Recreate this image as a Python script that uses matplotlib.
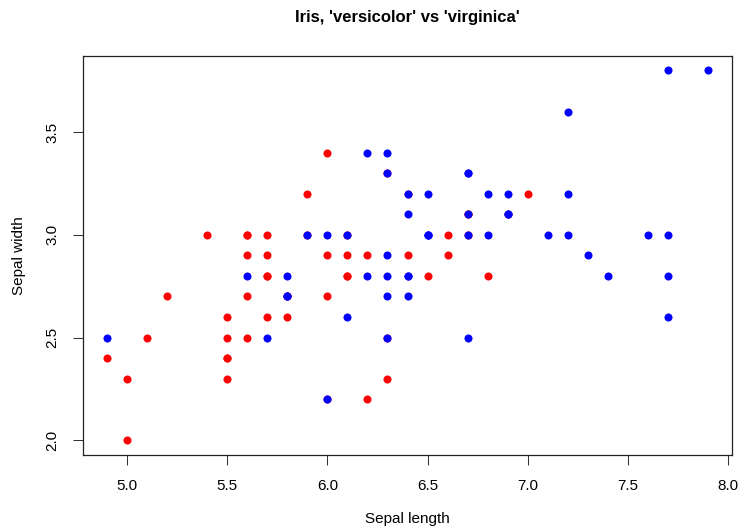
import numpy as np
import matplotlib.pyplot as plt

plt.rcParams['font.family'] = ['Liberation Sans', 'DejaVu Sans']

# iris versicolor
versicolor_length = [7.0, 6.4, 6.9, 5.5, 6.5, 5.7, 6.3, 4.9, 6.6, 5.2,
                     5.0, 5.9, 6.0, 6.1, 5.6, 6.7, 5.6, 5.8, 6.2, 5.6,
                     5.9, 6.1, 6.3, 6.1, 6.4, 6.6, 6.8, 6.7, 6.0, 5.7,
                     5.5, 5.5, 5.8, 6.0, 5.4, 6.0, 6.7, 6.3, 5.6, 5.5,
                     5.5, 6.1, 5.8, 5.0, 5.6, 5.7, 5.7, 6.2, 5.1, 5.7]
versicolor_width = [3.2, 3.2, 3.1, 2.3, 2.8, 2.8, 3.3, 2.4, 2.9, 2.7,
                    2.0, 3.0, 2.2, 2.9, 2.9, 3.1, 3.0, 2.7, 2.2, 2.5,
                    3.2, 2.8, 2.5, 2.8, 2.9, 3.0, 2.8, 3.0, 2.9, 2.6,
                    2.4, 2.4, 2.7, 2.7, 3.0, 3.4, 3.1, 2.3, 3.0, 2.5,
                    2.6, 3.0, 2.6, 2.3, 2.7, 3.0, 2.9, 2.9, 2.5, 2.8]

# iris virginica
virginica_length = [6.3, 5.8, 7.1, 6.3, 6.5, 7.6, 4.9, 7.3, 6.7, 7.2,
                    6.5, 6.4, 6.8, 5.7, 5.8, 6.4, 6.5, 7.7, 7.7, 6.0,
                    6.9, 5.6, 7.7, 6.3, 6.7, 7.2, 6.2, 6.1, 6.4, 7.2,
                    7.4, 7.9, 6.4, 6.3, 6.1, 7.7, 6.3, 6.4, 6.0, 6.9,
                    6.7, 6.9, 5.8, 6.8, 6.7, 6.7, 6.3, 6.5, 6.2, 5.9]
virginica_width = [3.3, 2.7, 3.0, 2.9, 3.0, 3.0, 2.5, 2.9, 2.5, 3.6,
                   3.2, 2.7, 3.0, 2.5, 2.8, 3.2, 3.0, 3.8, 2.6, 2.2,
                   3.2, 2.8, 2.8, 2.7, 3.3, 3.2, 2.8, 3.0, 2.8, 3.0,
                   2.8, 3.8, 2.8, 2.8, 2.6, 3.0, 3.4, 3.1, 3.0, 3.1,
                   3.1, 3.1, 2.7, 3.2, 3.3, 3.0, 2.5, 3.0, 3.4, 3.0]

x_ticks = [5.0, 5.5, 6.0, 6.5, 7.0, 7.5, 8.0]
y_ticks = [2.0, 2.5, 3.0, 3.5]

fig = plt.figure(figsize=(7.42, 5.32), dpi=100)
ax = fig.add_axes([0.1119, 0.1447, 0.8746, 0.7506])

ax.plot(versicolor_length, versicolor_width, 'o', color='red',
        markersize=5.8, markeredgewidth=0)
ax.plot(virginica_length, virginica_width, 'o', color='blue',
        markersize=5.8, markeredgewidth=0)

# R style 4% padding
all_x = versicolor_length + virginica_length
all_y = versicolor_width + virginica_width
dx = (max(all_x) - min(all_x)) * 0.04
dy = (max(all_y) - min(all_y)) * 0.04
ax.set_xlim(min(all_x) - dx, max(all_x) + dx)
ax.set_ylim(min(all_y) - dy, max(all_y) + dy)

ax.set_xticks(x_ticks)
ax.set_xticklabels(['%.1f' % v for v in x_ticks])
ax.set_yticks(y_ticks)
ax.set_yticklabels(['%.1f' % v for v in y_ticks], rotation=90, va='center')
ax.tick_params(direction='out', length=7, width=0.75, labelsize=11,
               color='#333333', pad=10)

for s in ax.spines.values():
    s.set_linewidth(0.9)
    s.set_color('#222222')

ax.set_xlabel('Sepal length', fontsize=11, labelpad=14)
ax.set_ylabel('Sepal width', fontsize=11, labelpad=14)
ax.set_title("Iris, 'versicolor' vs 'virginica'", fontsize=12,
             fontweight='bold', pad=24)

fig.savefig('out.png', dpi=100)
